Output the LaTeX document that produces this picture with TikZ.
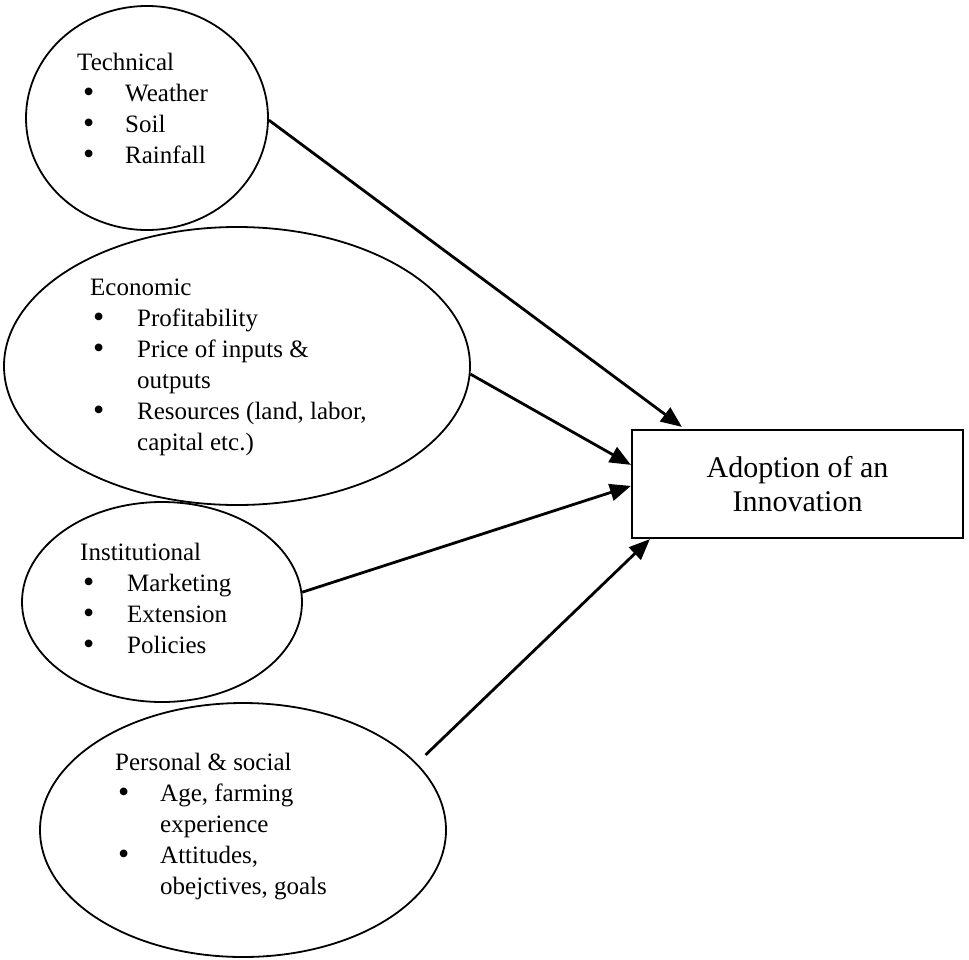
\documentclass[tikz,border=0pt]{standalone}
\usepackage{fontspec}
\setmainfont{Liberation Serif}
\usetikzlibrary{shapes.geometric,arrows.meta}
\newcommand{\bigbul}{\smash{\raisebox{-0.5pt}{\fontsize{32}{31}\selectfont\textbullet}}}
\begin{document}
\begin{tikzpicture}[x=1pt,y=-1pt,
  factor/.style={draw,ellipse,line width=1.8pt,inner sep=0pt},
  factortext/.style={anchor=north west,inner sep=0pt,align=left,font=\fontsize{25}{31}\selectfont},
  target/.style={draw,rectangle,line width=2.2pt,inner sep=0pt,align=center,font=\fontsize{30}{34}\selectfont},
  link/.style={line width=2.8pt,-{Triangle[length=21pt,width=17pt]}}]
\useasboundingbox[fill=white] (0,0) rectangle (969,959);
% factor ellipses
\node[factor,minimum width=242pt,minimum height=224pt] (tech) at (147,118) {};
\node[factor,minimum width=466pt,minimum height=278pt] (econ) at (237,366) {};
\node[factor,minimum width=280pt,minimum height=200pt] (inst) at (162,602) {};
\node[factor,minimum width=406pt,minimum height=254pt] (pers) at (243,830) {};
% texts
\node[factortext] (techtext) at (77,53) {Technical\\
\hspace*{6pt}\makebox[42pt][l]{\bigbul}Weather\\
\hspace*{6pt}\makebox[42pt][l]{\bigbul}Soil\\
\hspace*{6pt}\makebox[42pt][l]{\bigbul}Rainfall};
\node[factortext] (econtext) at (90,279) {Economic\\
\hspace*{3pt}\makebox[44pt][l]{\bigbul}Profitability\\
\hspace*{3pt}\makebox[44pt][l]{\bigbul}Price of inputs \&\\
\hspace*{47pt}outputs\\
\hspace*{3pt}\makebox[44pt][l]{\bigbul}Resources (land, labor,\\
\hspace*{47pt}capital etc.)};
\node[factortext] (insttext) at (80,543) {Institutional\\
\hspace*{3pt}\makebox[44pt][l]{\bigbul}Marketing\\
\hspace*{3pt}\makebox[44pt][l]{\bigbul}Extension\\
\hspace*{3pt}\makebox[44pt][l]{\bigbul}Policies};
\node[factortext] (perstext) at (115,753) {Personal \& social\\
\hspace*{3pt}\makebox[42pt][l]{\bigbul}Age, farming\\
\hspace*{45pt}experience\\
\hspace*{3pt}\makebox[42pt][l]{\bigbul}Attitudes,\\
\hspace*{45pt}obejctives, goals};
% target box
\node[target,minimum width=331pt,minimum height=108pt] (box) at (797.5,484) {Adoption of an\\Innovation};
% arrows
\draw[link] (tech.-1) -- ([xshift=51pt,yshift=2pt]box.north west);
\draw[link] (econ.-2) -- ([yshift=-36pt]box.north west);
\draw[link] (inst.4) -- ([yshift=-57pt]box.north west);
\draw[link,shorten <=12pt] (pers.21) -- ([xshift=19pt]box.south west);
\end{tikzpicture}
\end{document}
